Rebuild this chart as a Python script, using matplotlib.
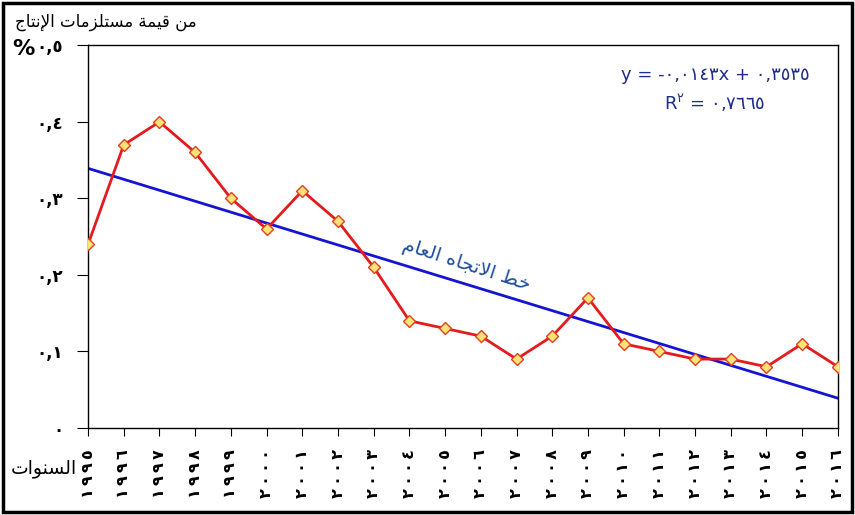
import matplotlib
matplotlib.use('Agg')
from matplotlib import pyplot as plt
from matplotlib.patches import Rectangle

years = list(range(1995, 2017))
share = [0.24, 0.37, 0.40, 0.36, 0.30, 0.26, 0.31, 0.27, 0.21, 0.14, 0.13,
         0.12, 0.09, 0.12, 0.17, 0.11, 0.10, 0.09, 0.09, 0.08, 0.11, 0.08]
trend_slope = -0.0143
trend_icept = 0.3535
trend_r2 = 0.7665
yticks = [0, 0.1, 0.2, 0.3, 0.4, 0.5]

title_txt = 'من قيمة مستلزمات الإنتاج'
trend_txt = 'خط الاتجاه العام'
years_txt = 'السنوات'

# presentation forms: isolated, final, initial, medial
FORMS = {
    'ا': (0xFE8D, 0xFE8E, None, None),
    'إ': (0xFE87, 0xFE88, None, None),
    'ة': (0xFE93, 0xFE94, None, None),
    'ت': (0xFE95, 0xFE96, 0xFE97, 0xFE98),
    'ج': (0xFE9D, 0xFE9E, 0xFE9F, 0xFEA0),
    'خ': (0xFEA5, 0xFEA6, 0xFEA7, 0xFEA8),
    'ز': (0xFEAF, 0xFEB0, None, None),
    'س': (0xFEB1, 0xFEB2, 0xFEB3, 0xFEB4),
    'ط': (0xFEC1, 0xFEC2, 0xFEC3, 0xFEC4),
    'ع': (0xFEC9, 0xFECA, 0xFECB, 0xFECC),
    'ق': (0xFED5, 0xFED6, 0xFED7, 0xFED8),
    'ل': (0xFEDD, 0xFEDE, 0xFEDF, 0xFEE0),
    'م': (0xFEE1, 0xFEE2, 0xFEE3, 0xFEE4),
    'ن': (0xFEE5, 0xFEE6, 0xFEE7, 0xFEE8),
    'ه': (0xFEE9, 0xFEEA, 0xFEEB, 0xFEEC),
    'و': (0xFEED, 0xFEEE, None, None),
    'ي': (0xFEF1, 0xFEF2, 0xFEF3, 0xFEF4),
    'لا': (0xFEFB, 0xFEFC, None, None),
    'لإ': (0xFEF9, 0xFEFA, None, None),
}


def shape(text):
    # join letters and put them in visual (left to right) order
    units = []
    i = 0
    while i < len(text):
        if text[i:i+2] in FORMS:
            units.append(text[i:i+2])
            i += 2
        else:
            units.append(text[i])
            i += 1
    out = []
    for k, u in enumerate(units):
        if u not in FORMS:
            out.append(u)
            continue
        iso, fin, ini, med = FORMS[u]
        prev = units[k-1] if k > 0 else None
        nxt = units[k+1] if k + 1 < len(units) else None
        jp = prev in FORMS and FORMS[prev][2] is not None
        jn = ini is not None and nxt in FORMS
        if jp and jn:
            c = med
        elif jp:
            c = fin
        elif jn:
            c = ini
        else:
            c = iso
        out.append(chr(c))
    return ''.join(reversed(out))


def ar(v):
    return str(v).translate(str.maketrans('0123456789.', '٠١٢٣٤٥٦٧٨٩,'))


fig = plt.figure(figsize=(8.55, 5.15), dpi=100)
ax = fig.add_axes([0.103, 0.169, 0.877, 0.743])

trend = [trend_slope * (i + 1) + trend_icept for i in range(len(years))]
ax.plot(years, trend, color='#1414d2', lw=2, zorder=2)
ax.plot(years, share, color='#e41a1c', lw=2, marker='D', ms=6.5,
        mfc='#ffe27a', mec='#e0401a', mew=1, zorder=3)

ax.set_xlim(years[0], years[-1])
ax.set_ylim(0, 0.5)
ax.set_xticks(years)
# spread the digits a little along the rotated labels
ax.set_xticklabels(['\u2009'.join(ar(y)) for y in years], rotation=90,
                   fontsize=11.5, fontweight='bold')
ax.set_yticks(yticks)
ax.set_yticklabels([ar(round(t, 1)) if t else ar(0) for t in yticks],
                   fontsize=12, fontweight='bold')
ax.tick_params(axis='y', direction='out', length=8, pad=10)
ax.tick_params(axis='x', direction='out', length=6, pad=9)
for s in ax.spines.values():
    s.set_linewidth(1)

ax.text(2005.6, 0.212, shape(trend_txt), rotation=-18, color='#1f4e9a',
        fontsize=14, ha='center', va='center', rotation_mode='anchor')

eq = 'y = -' + ar(abs(trend_slope)) + 'x + ' + ar(trend_icept)
ax.text(0.836, 0.922, eq, transform=ax.transAxes, color='#1f2d8a',
        fontsize=13, ha='center', va='center')
ax.text(0.836, 0.849, 'R$^{٢}$ = ' + ar(trend_r2), transform=ax.transAxes,
        color='#1f2d8a', fontsize=13, ha='center', va='center')

fig.text(0.018, 0.957, shape(title_txt), fontsize=12, ha='left', va='center')
fig.text(0.014, 0.905, '%', fontsize=16, fontweight='bold', ha='left',
         va='center')
fig.text(0.012, 0.091, shape(years_txt), fontsize=13.5, ha='left',
         va='center')

fig.patches.append(Rectangle((0.004, 0.006), 0.992, 0.988, fill=False,
                             lw=2.5, ec='black', transform=fig.transFigure))

fig.savefig('out.png', dpi=100)
